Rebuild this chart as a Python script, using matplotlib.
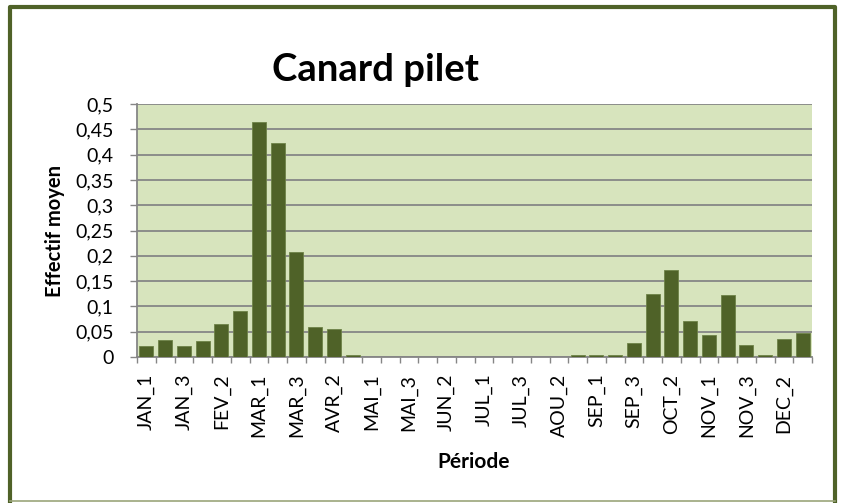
import matplotlib.pyplot as plt
from matplotlib.lines import Line2D

periodes = [m + "_" + str(i) for m in ["JAN", "FEV", "MAR", "AVR", "MAI", "JUN",
                                      "JUL", "AOU", "SEP", "OCT", "NOV", "DEC"]
            for i in (1, 2, 3)]
effectif = [0.022, 0.034, 0.021, 0.031, 0.065, 0.091,
            0.465, 0.423, 0.208, 0.060, 0.055, 0.003,
            0, 0, 0, 0, 0, 0,
            0, 0, 0, 0, 0, 0.003,
            0.003, 0.003, 0.027, 0.125, 0.171, 0.072,
            0.044, 0.123, 0.024, 0.004, 0.036, 0.047]
yticks = [0, 0.05, 0.1, 0.15, 0.2, 0.25, 0.3, 0.35, 0.4, 0.45, 0.5]

plt.rcParams['font.family'] = ['Lato', 'DejaVu Sans']

W, H = 842, 503
fig = plt.figure(figsize=(W / 100, H / 100), dpi=100)

# cadre vert autour du graphique
fig.add_artist(Line2D([10 / W, 10 / W, 835 / W, 835 / W], [1 - 501 / H, 1 - 7 / H, 1 - 7 / H, 1 - 501 / H],
                      color='#4F6228', lw=3, transform=fig.transFigure))
fig.add_artist(Line2D([10 / W, 835 / W], [1 - 501 / H, 1 - 501 / H],
                      color='#9BA57A', lw=1.2, transform=fig.transFigure))

ax = fig.add_axes([137 / W, 1 - 357 / H, (812 - 137) / W, (357 - 104) / H])
ax.set_facecolor('#D7E4BD')
x = list(range(len(periodes)))
ax.bar(x, effectif, width=0.75, color='#4F6228', edgecolor='#6E8247', linewidth=0.6, zorder=3)

ax.set_xlim(-0.5, len(periodes) - 0.5)
ax.set_ylim(0, 0.5)
ax.set_yticks(yticks)
ax.set_yticklabels([("%g" % v).replace('.', ',') for v in yticks], fontsize=14)
ax.grid(axis='y', color='#868686', linewidth=1.3, zorder=1)
ax.set_axisbelow(True)

ax.set_xticks(x[::2])
ax.set_xticklabels(periodes[::2], rotation=90, fontsize=14)
ax.set_xticks([i - 0.5 for i in range(len(periodes) + 1)], minor=True)
ax.tick_params(axis='x', which='major', length=0, pad=12)
ax.tick_params(axis='x', which='minor', length=4.5, color='#868686', width=1)
ax.tick_params(axis='y', length=5, color='#868686', width=1, pad=12)

for s in ['top', 'right']:
    ax.spines[s].set_visible(False)
for s in ['left', 'bottom']:
    ax.spines[s].set_color('#868686')
    ax.spines[s].set_linewidth(1.3)

fig.text(375 / W, 1 - 81 / H, "Canard pilet", ha='center', va='baseline',
         fontsize=27.5, fontweight='bold')
fig.text(55 / W, 1 - 231 / H, "Effectif moyen", ha='center', va='center',
         rotation=90, fontsize=14.5, fontweight='bold')
fig.text(474 / W, 1 - 462 / H, "Période", ha='center', va='center',
         fontsize=15, fontweight='bold')

plt.savefig("out.png", dpi=100)
